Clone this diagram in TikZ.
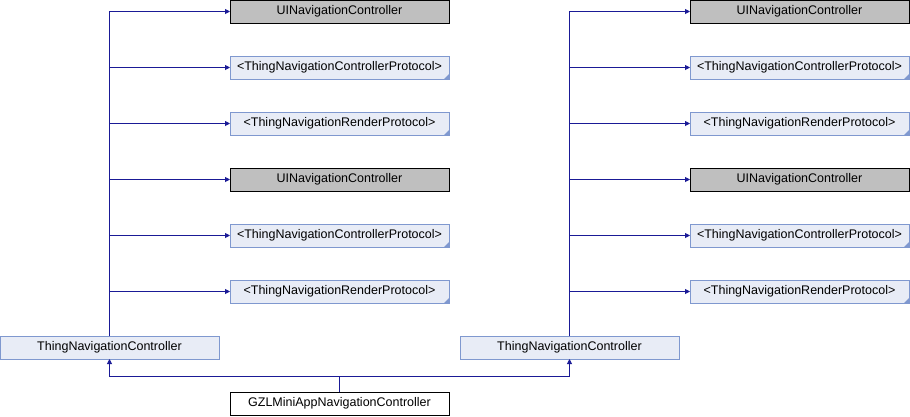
\documentclass[tikz,border=0pt]{standalone}
\usepackage{fontspec}
\setmainfont{Liberation Sans}
\usetikzlibrary{arrows.meta}
\definecolor{boxfill}{HTML}{E8ECF6}
\definecolor{boxline}{HTML}{7F98CF}
\definecolor{grayfill}{HTML}{BFBFBF}
\definecolor{conncol}{HTML}{1A1A96}
\definecolor{foldcol}{HTML}{7F98CF}
\tikzset{
  base/.style={rectangle, minimum width=219pt, minimum height=23pt, inner sep=0pt, outer sep=0pt,
    anchor=north west, line width=0.9pt, font=\fontsize{12.5}{14}\selectfont},
  cls/.style={base, draw=boxline, fill=boxfill},
  ext/.style={base, draw=black, fill=grayfill},
  plain/.style={base, draw=black, fill=white},
  proto/.style={cls, path picture={\fill[foldcol] (path picture bounding box.south east) -- ++(-5pt,0pt) -- ++(5pt,5pt) -- cycle;}},
  arr/.style={draw=conncol, line width=0.9pt, -{Triangle[length=5pt,width=5pt]}},
}
\begin{document}
\begin{tikzpicture}[x=1pt,y=-1pt]
\useasboundingbox (0,0) rectangle (910,416);
% left column
\node[ext]   (a1) at (230,0)   {UINavigationController};
\node[proto] (a2) at (230,56)  {<ThingNavigationControllerProtocol>};
\node[proto] (a3) at (230,112) {<ThingNavigationRenderProtocol>};
\node[ext]   (a4) at (230,168) {UINavigationController};
\node[proto] (a5) at (230,224) {<ThingNavigationControllerProtocol>};
\node[proto] (a6) at (230,280) {<ThingNavigationRenderProtocol>};
\node[cls]   (t1) at (0,336)   {ThingNavigationController};
% right column
\node[ext]   (b1) at (690,0)   {UINavigationController};
\node[proto] (b2) at (690,56)  {<ThingNavigationControllerProtocol>};
\node[proto] (b3) at (690,112) {<ThingNavigationRenderProtocol>};
\node[ext]   (b4) at (690,168) {UINavigationController};
\node[proto] (b5) at (690,224) {<ThingNavigationControllerProtocol>};
\node[proto] (b6) at (690,280) {<ThingNavigationRenderProtocol>};
\node[cls]   (t2) at (460,336) {ThingNavigationController};
% bottom
\node[plain] (g) at (230,392) {GZLMiniAppNavigationController};
% connectors
\foreach \n in {a1,a2,a3,a4,a5,a6} { \draw[arr] (t1.north) |- (\n.west); }
\foreach \n in {b1,b2,b3,b4,b5,b6} { \draw[arr] (t2.north) |- (\n.west); }
\coordinate (j) at ([yshift=16pt]g.north);
\draw[arr] (g.north) -- (j) -| (t1.south);
\draw[arr] (g.north) -- (j) -| (t2.south);
\end{tikzpicture}
\end{document}
